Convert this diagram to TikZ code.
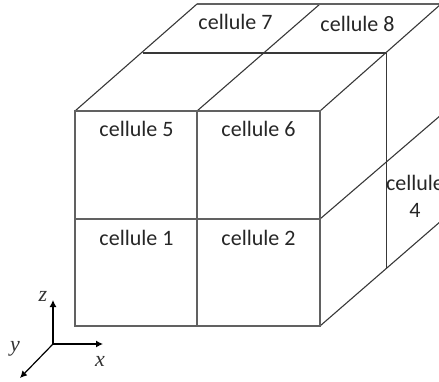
\documentclass[tikz,border=0pt]{standalone}
\usepackage{fontspec}
\setmainfont{Carlito}
\newfontfamily\axisfont{Liberation Serif}
\usetikzlibrary{arrows.meta}
\tikzset{
  frontedge/.style={draw=black!62,line width=1.4pt},
  backedge/.style={draw=black!78,line width=1.1pt},
  celltext/.style={font=\fontsize{22}{27}\selectfont,text=black!85,inner sep=0pt,align=center},
  axisline/.style={draw=black,line width=1.2pt,-{Latex[length=7pt,width=7pt]}},
  axislabel/.style={font=\axisfont\itshape\fontsize{22}{24}\selectfont,text=black!80,inner sep=0pt}
}
\begin{document}
\begin{tikzpicture}[x=1pt,y=-1pt]
\useasboundingbox (0,0) rectangle (439,381);
\clip (0,0) rectangle (439,381);
% front face
\coordinate (fa) at (75,111);
\coordinate (fb) at (197,111);
\coordinate (fc) at (320,111);
\coordinate (fd) at (75,219);
\coordinate (fe) at (197,219);
\coordinate (ff) at (320,219);
\coordinate (fg) at (75,326);
\coordinate (fh) at (197,326);
\coordinate (fi) at (320,326);
% middle depth
\coordinate (ma) at (143,53);
\coordinate (mb) at (263,53);
\coordinate (mc) at (386.4,53);
\coordinate (mf) at (386.4,162);
\coordinate (mi) at (386.4,269);
% back and free ends
\coordinate (ba) at (197,4);
\coordinate (bb) at (320,4);
\coordinate (bc) at (441,4);
\coordinate (bf) at (441,115);
\coordinate (bi) at (441,221);
% back edges
\draw[backedge] (fa) -- (ba);
\draw[backedge] (fb) -- (bb);
\draw[backedge] (fc) -- (bc);
\draw[backedge] (ff) -- (bf);
\draw[backedge] (fi) -- (bi);
\draw[backedge] (ma) -- (mc);
\draw[backedge] (mc) -- (mi);
\draw[frontedge] (ba) -- (bc);
% front face
\draw[frontedge] (fa) rectangle (fi);
\draw[frontedge] (fb) -- (fh);
\draw[frontedge] (fd) -- (ff);
% labels
\node[celltext] (c7) at (235.5,22) {cellule 7};
\node[celltext] (c8) at (357.5,24) {cellule 8};
\node[celltext] (c5) at (136.5,129) {cellule 5};
\node[celltext] (c6) at (258.5,129) {cellule 6};
\node[celltext] (c1) at (136.5,238) {cellule 1};
\node[celltext] (c2) at (258.5,238) {cellule 2};
\node[celltext,anchor=north] (c4) at (415,175) {cellule\\4};
% axes
\coordinate (o) at (53,344);
\coordinate (az) at (53,300);
\coordinate (ax) at (103,344);
\coordinate (ay) at (20,378);
\draw[axisline] (o) -- (az);
\draw[axisline] (o) -- (ax);
\draw[axisline] (o) -- (ay);
\node[axislabel] (lz) at (43,296) {z};
\node[axislabel] (ly) at (15,349) {y};
\node[axislabel] (lx) at (100,361) {x};
\end{tikzpicture}
\end{document}
